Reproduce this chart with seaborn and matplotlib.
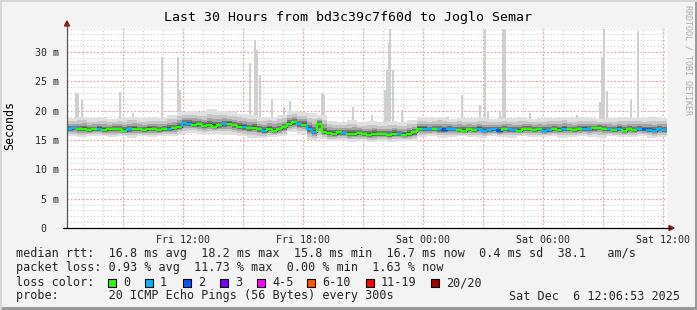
import numpy as np
import pandas as pd
import matplotlib
matplotlib.use("Agg")
import matplotlib.pyplot as plt
import seaborn as sns
from matplotlib.patches import Rectangle, Polygon
from matplotlib.lines import Line2D

# ---------------- data (hours since graph start, 15-min bins) ----------------
median_ms = [16.9, 17.0, 16.8, 16.9, 16.7, 16.8, 16.9, 16.7, 16.8, 16.9, 16.8, 16.6, 16.8, 16.9, 16.8, 16.7, 16.9, 16.8, 16.7, 16.8, 16.9, 17.0, 17.2,
             17.9,
             17.8, 17.6, 17.7, 17.4, 17.6, 17.3, 17.5, 17.7, 17.8, 17.5,
             17.3, 17.2, 17.0, 17.1,
             16.8, 16.6, 16.9, 16.6, 16.8, 17.2,
             17.8, 18.0, 17.7, 17.6,
             16.9, 16.3,
             17.8,
             16.4, 16.2, 16.1, 16.3, 16.2, 16.0, 16.1, 16.2, 16.0, 15.9, 16.1, 16.0, 16.0, 15.8, 16.1, 16.0, 15.9, 16.0, 16.3,
             16.9,
             16.9, 16.8, 16.9, 16.8, 16.7, 16.9, 16.8, 16.7, 16.6, 16.8,
             16.7, 16.9, 16.6, 16.7, 16.8, 16.6, 16.9, 16.8, 16.7, 16.6,
             16.8, 16.9, 16.7, 16.8, 16.6, 16.7, 16.8, 16.7, 16.9, 16.8,
             16.7, 16.8, 16.9, 16.8, 17.0, 17.1, 16.9, 16.8, 16.7, 16.9,
             16.6, 16.8, 16.7, 16.9, 16.8, 16.7, 16.6, 16.8, 16.7]

loss_count = [1, 1, 0, 0, 0, 0, 1, 0, 0, 0, 0, 0, 1, 0, 0, 0, 0, 0, 0, 0,
              1, 0, 0, 1, 1, 0, 0, 0, 0, 0, 0, 1, 0, 0, 0, 1, 0, 0, 0, 1,
              0, 0, 0, 0, 0, 0, 1, 0, 1, 1, 0, 0, 0, 0, 0, 1, 0, 0, 0, 0,
              0, 0, 0, 0, 0, 0, 1, 0, 0, 0, 0, 1, 1, 0, 1, 2, 1, 1, 0, 0,
              0, 0, 1, 1, 1, 1, 2, 0, 1, 1, 0, 0, 0, 0, 0, 1, 1, 0, 0, 1,
              0, 0, 0, 1, 1, 0, 0, 0, 1, 0, 1, 0, 0, 0, 1, 2, 1, 1, 1, 1]

# smoke envelope, 30-min resolution
smoke_hi = [18.8, 19.0, 18.7, 18.9, 18.6, 18.8, 19.0, 18.7, 18.9, 18.8, 19.2,
            19.8,
            20.0, 19.8, 20.2, 19.9, 19.7,
            19.5, 19.2, 18.9, 19.0, 19.3,
            20.0, 19.8,
            19.6, 19.2,
            18.3, 18.1, 18.4, 18.0, 18.2, 18.1, 18.3, 18.0, 18.4,
            18.9, 18.7, 19.0, 18.6, 18.8, 18.7, 18.9, 18.6, 18.8, 18.7, 18.9, 18.6, 18.7,
            18.8, 19.0, 18.7, 18.9, 18.8, 18.6, 18.7, 18.9, 18.8, 18.7, 18.9, 18.8]
smoke_lo = [15.6, 15.5, 15.7, 15.6, 15.5, 15.6, 15.4, 15.6, 15.5, 15.7, 15.6,
            16.0,
            16.2, 16.0, 16.1, 16.0, 15.9,
            15.6, 15.4, 15.3, 15.5, 15.6,
            16.3, 16.1,
            15.0, 15.1,
            14.8, 14.9, 14.7, 14.8, 14.6, 14.9, 14.7, 14.8, 14.9,
            15.5, 15.6, 15.4, 15.5, 15.6, 15.5, 15.4, 15.6, 15.5, 15.4, 15.6, 15.5, 15.5,
            15.6, 15.4, 15.5, 15.6, 15.5, 15.4, 15.6, 15.5, 15.5, 15.6, 15.4, 15.5]

# isolated high pings (hours since start, ms)
spike_hours = [0.45, 0.55, 0.75, 2.65, 3.3, 4.75, 5.55, 5.65, 9.15, 9.4, 9.5, 9.65,
               10.25, 10.85, 11.15, 12.75, 12.85, 14.3, 15.25, 15.9, 16.0, 16.1, 16.15,
               16.3, 16.75, 18.25, 19.05, 19.75, 20.65, 20.9, 21.05, 21.65, 21.8, 21.9,
               23.15, 25.25, 25.5, 26.65, 26.75, 26.85, 27.0, 28.2, 28.55]
spike_ms = [23.0, 22.8, 21.8, 23.2, 19.6, 29.2, 29.1, 23.5, 28.2, 32.0, 30.3, 26.0,
            22.0, 20.7, 21.6, 23.0, 22.7, 20.7, 19.2, 23.5, 26.9, 31.6, 34.0,
            26.9, 20.1, 18.9, 18.9, 22.7, 21.0, 34.0, 20.0, 19.8, 34.0, 34.0,
            19.6, 19.0, 19.2, 21.5, 29.2, 34.0, 23.3, 21.8, 33.5]

tick_hours = [5.8, 11.8, 17.8, 23.8, 29.8]
tick_labels = ["Fri 12:00", "Fri 18:00", "Sat 00:00", "Sat 06:00", "Sat 12:00"]
ytick_vals = [0, 5, 10, 15, 20, 25, 30]
ytick_labels = ["0  ", "5 m", "10 m", "15 m", "20 m", "25 m", "30 m"]

loss_names = ["0", "1", "2", "3", "4-5", "6-10", "11-19", "20/20"]
loss_colors = ["#26ff00", "#00b8ff", "#0059ff", "#7e00ff", "#ff00ff", "#ff5500", "#ff0000", "#a10000"]

# ---------------- figure ----------------
W, H = 697, 310
sns.set_style("white")
plt.rcParams["font.family"] = ["DejaVu Sans Mono"]

fig = plt.figure(figsize=(W / 100, H / 100), dpi=100, facecolor="#f3f3f3")
L, R, T, B = 67, 667, 28, 228
ax = fig.add_axes([L / W, 1 - B / H, (R - L) / W, (B - T) / H])
ax.set_facecolor("white")
ax.set_xlim(0, 30)
ax.set_ylim(0, 200 / 5.8667)

def P(x, y):
    return (x / W, 1 - y / H)

# grid
for h in np.arange(0.8, 30, 1.0):
    ax.axvline(h, color="#cccccc", lw=0.8, ls=(0, (1, 2)), zorder=0)
for v in np.arange(1, 35, 1.0):
    ax.axhline(v, color="#cccccc", lw=0.8, ls=(0, (1, 2)), zorder=0)
for h in np.arange(2.8, 30, 3.0):
    ax.axvline(h, color="#e69a9a", lw=0.9, ls=(0, (1, 2)), zorder=0.5)
for v in ytick_vals[1:]:
    ax.axhline(v, color="#e69a9a", lw=0.9, ls=(0, (1, 2)), zorder=0.5)

# smoke
n = len(median_ms)
med = np.array(median_ms)
edges = np.arange(n + 1) * 0.25
hi = np.array([smoke_hi[i // 2] for i in range(n)])
lo = np.array([smoke_lo[i // 2] for i in range(n)])

def ext(a):
    return np.append(a, a[-1])

med_idx = [min(int(h / 0.25), n - 1) for h in spike_hours]
ax.bar(spike_hours, [s - med[i] for s, i in zip(spike_ms, med_idx)],
       bottom=[med[i] for i in med_idx], width=0.09, color="#cfcfcf",
       linewidth=0, zorder=1)

layers = [(1.0, "#e0e0e0"), (0.7, "#c6c6c6"), (0.45, "#a4a4a4"), (0.26, "#767676"), (0.12, "#484848")]
for k, c in layers:
    ax.fill_between(edges, ext(med - k * (med - lo)), ext(med + k * (hi - med)),
                    step="post", color=c, linewidth=0, zorder=2)

# median line via seaborn (dark base) + loss colored segments
df = pd.DataFrame({"hours": edges, "median": ext(med)})
sns.lineplot(data=df, x="hours", y="median", drawstyle="steps-post",
             color="#303030", lw=1.0, ax=ax, zorder=3)
for i in range(n):
    c = loss_colors[0] if loss_count[i] == 0 else loss_colors[min(loss_count[i], 3)]
    prev = med[i - 1] if i > 0 else med[i]
    ax.plot([edges[i], edges[i], edges[i + 1]], [prev, med[i], med[i]],
            color=c, lw=1.7, solid_capstyle="butt", zorder=4)

# axes styling
for s in ax.spines.values():
    s.set_visible(False)
ax.set_xlabel("")
ax.set_ylabel("")
ax.set_xticks(tick_hours)
ax.set_xticklabels(tick_labels, fontsize=7.2)
ax.set_yticks(ytick_vals)
ax.set_yticklabels(ytick_labels, fontsize=7.2)
ax.tick_params(axis="x", length=3, width=0.8, color="#333333", pad=2, direction="out")
ax.tick_params(axis="y", length=3, width=0.8, color="#333333", pad=3, direction="out")

# axis lines and arrows
fig.add_artist(Line2D([P(67, 228)[0], P(67, 24)[0]], [P(67, 228)[1], P(67, 24)[1]],
                      color="#555555", lw=0.9, transform=fig.transFigure))
fig.add_artist(Line2D([P(63, 228)[0], P(670, 228)[0]], [P(63, 228)[1], P(670, 228)[1]],
                      color="#000000", lw=0.9, transform=fig.transFigure))
fig.add_artist(Polygon([P(64.5, 26), P(69.5, 26), P(67, 21)], closed=True,
                       color="#8b1a1a", transform=fig.transFigure))
fig.add_artist(Polygon([P(669, 225.5), P(669, 230.5), P(674, 228)], closed=True,
                       color="#8b1a1a", transform=fig.transFigure))

# texts
fig.text(*P(348, 18), "Last 30 Hours from bd3c39c7f60d to Joglo Semar",
         ha="center", va="center", fontsize=9.5, color="#000000")
fig.text(*P(10, 126), "Seconds", rotation=90, ha="center", va="center",
         fontsize=8.4, color="#000000")
fig.text(*P(688, 5), "RRDTOOL / TOBI OETIKER", rotation=270, ha="center", va="top",
         fontsize=6, color="#aaaaaa")

fs = 8.5
fig.text(*P(16, 254), "median rtt:  16.8 ms avg  18.2 ms max  15.8 ms min  16.7 ms now  0.4 ms sd  38.1   am/s",
         ha="left", va="center", fontsize=fs)
fig.text(*P(16, 268), "packet loss: 0.93 % avg  11.73 % max  0.00 % min  1.63 % now",
         ha="left", va="center", fontsize=fs)
fig.text(*P(16, 283), "loss color:", ha="left", va="center", fontsize=fs)
box_x = [108, 145, 183, 220, 257, 307, 366, 431]
for bx, name, col in zip(box_x, loss_names, loss_colors):
    fig.add_artist(Rectangle(P(bx, 287), 8 / W, 8 / H, facecolor=col, edgecolor="black",
                             lw=0.8, transform=fig.transFigure))
    fig.text(*P(bx + 15, 283), name, ha="left", va="center", fontsize=fs)
fig.text(*P(16, 296), "probe:       20 ICMP Echo Pings (56 Bytes) every 300s",
         ha="left", va="center", fontsize=fs)
fig.text(*P(680, 296), "Sat Dec  6 12:06:53 2025", ha="right", va="center", fontsize=fs)

# frame shading
fig.add_artist(Rectangle((0, 0), 1, 3 / H, facecolor="#9a9a9a", lw=0, transform=fig.transFigure))
fig.add_artist(Rectangle((1 - 2 / W, 0), 2 / W, 1, facecolor="#9a9a9a", lw=0, transform=fig.transFigure))
fig.add_artist(Rectangle((0, 1 - 2 / H), 1, 2 / H, facecolor="#d6d6d6", lw=0, transform=fig.transFigure))
fig.add_artist(Rectangle((0, 0), 2 / W, 1, facecolor="#d6d6d6", lw=0, transform=fig.transFigure))

fig.savefig("out.png", dpi=100, facecolor=fig.get_facecolor())
